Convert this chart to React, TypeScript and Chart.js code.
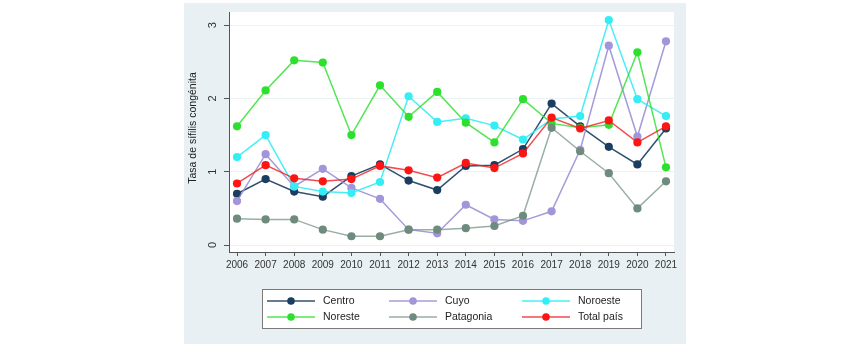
import React, { useEffect, useRef } from 'react';
import { Chart, registerables } from 'chart.js';
Chart.register(...registerables);

const years = [2006, 2007, 2008, 2009, 2010, 2011, 2012, 2013, 2014, 2015, 2016, 2017, 2018, 2019, 2020, 2021];
const centro = [0.70, 0.90, 0.73, 0.66, 0.94, 1.10, 0.88, 0.75, 1.08, 1.09, 1.31, 1.93, 1.62, 1.34, 1.10, 1.59];
const cuyo = [0.60, 1.24, 0.80, 1.04, 0.78, 0.63, 0.21, 0.16, 0.55, 0.35, 0.33, 0.46, 1.30, 2.72, 1.48, 2.78];
const noroeste = [1.20, 1.50, 0.80, 0.73, 0.71, 0.86, 2.03, 1.68, 1.73, 1.63, 1.44, 1.72, 1.76, 3.07, 1.99, 1.76];
const noreste = [1.62, 2.11, 2.52, 2.49, 1.50, 2.18, 1.75, 2.09, 1.67, 1.40, 1.99, 1.66, 1.60, 1.64, 2.63, 1.06];
const patagonia = [0.36, 0.35, 0.35, 0.21, 0.12, 0.12, 0.21, 0.21, 0.23, 0.26, 0.40, 1.60, 1.28, 0.98, 0.50, 0.87];
const totalPais = [0.84, 1.09, 0.91, 0.87, 0.90, 1.08, 1.02, 0.92, 1.12, 1.05, 1.25, 1.74, 1.59, 1.70, 1.40, 1.62];
const yTicks = [0, 1, 2, 3];
const yTitle = 'Tasa de sífilis congénita';

const seriesNames = ['Centro', 'Cuyo', 'Noroeste', 'Noreste', 'Patagonia', 'Total país'];
const seriesValues = [centro, cuyo, noroeste, noreste, patagonia, totalPais];
const markerColors = ['#1b3d5f', '#a295d9', '#33eef5', '#2ee02e', '#6e8b7d', '#ff1414'];
const lineColors = ['rgba(27,61,95,0.9)', 'rgba(150,138,210,0.85)', 'rgba(40,235,245,0.85)', 'rgba(40,224,40,0.8)', 'rgba(110,139,125,0.7)', 'rgba(240,30,30,0.8)'];

const FONT = '"Liberation Sans", Arial, sans-serif';

const decorPlugin = {
  id: 'decor',
  beforeDraw(chart: any) {
    const ctx = chart.ctx;
    const ca = chart.chartArea;
    ctx.save();
    ctx.fillStyle = '#ffffff';
    ctx.fillRect(0, 0, chart.width, chart.height);
    ctx.fillStyle = '#e8f0f3';
    ctx.fillRect(184, 3, 502, 341);
    ctx.fillStyle = '#ffffff';
    ctx.fillRect(ca.left, ca.top, ca.right - ca.left, ca.bottom - ca.top);
    ctx.restore();
  },
  afterDraw(chart: any) {
    const ctx = chart.ctx;
    const ys = chart.scales.y;
    ctx.save();
    // y tick labels (rotated)
    ctx.fillStyle = '#333333';
    ctx.font = `11px ${FONT}`;
    ctx.textAlign = 'center';
    ctx.textBaseline = 'middle';
    yTicks.forEach((v) => {
      const py = ys.getPixelForValue(v);
      ctx.save();
      ctx.translate(213, py);
      ctx.rotate(-Math.PI / 2);
      ctx.fillText(String(v), 0, 0);
      ctx.restore();
    });
    // y title
    ctx.save();
    ctx.translate(193, (chart.chartArea.top + chart.chartArea.bottom) / 2 - 4);
    ctx.rotate(-Math.PI / 2);
    ctx.font = `10.5px ${FONT}`;
    ctx.fillStyle = '#222222';
    ctx.fillText(yTitle, 0, 0);
    ctx.restore();

    // legend
    const bx = 262, by = 289, bw = 379, bh = 39;
    ctx.fillStyle = '#ffffff';
    ctx.fillRect(bx, by, bw, bh);
    ctx.strokeStyle = '#7a7a7a';
    ctx.lineWidth = 1;
    ctx.strokeRect(bx + 0.5, by + 0.5, bw, bh);
    const colX = [267, 389, 522];
    const rowY = [301, 317];
    ctx.font = `10.5px ${FONT}`;
    ctx.textAlign = 'left';
    ctx.textBaseline = 'middle';
    seriesNames.forEach((name, i) => {
      const x0 = colX[i % 3];
      const y0 = rowY[Math.floor(i / 3)];
      ctx.strokeStyle = lineColors[i];
      ctx.lineWidth = 1.5;
      ctx.beginPath();
      ctx.moveTo(x0, y0);
      ctx.lineTo(x0 + 48, y0);
      ctx.stroke();
      ctx.fillStyle = markerColors[i];
      ctx.beginPath();
      ctx.arc(x0 + 24, y0, 3.8, 0, Math.PI * 2);
      ctx.fill();
      ctx.fillStyle = '#222222';
      ctx.fillText(name, x0 + 56, y0 + 0.5);
    });
    ctx.restore();
  },
};

export default function App() {
  const ref = useRef<HTMLCanvasElement | null>(null);
  useEffect(() => {
    if (!ref.current) return;
    const datasets = seriesNames.map((name, i) => ({
      label: name,
      data: years.map((yr, j) => ({ x: yr, y: seriesValues[i][j] })),
      borderColor: lineColors[i],
      backgroundColor: markerColors[i],
      pointBackgroundColor: markerColors[i],
      pointBorderColor: markerColors[i],
      pointRadius: 4.1,
      pointBorderWidth: 0,
      borderWidth: 1.5,
      tension: 0,
      order: seriesNames.length - i,
    }));
    const chart = new Chart(ref.current, {
      type: 'line',
      data: { datasets },
      options: {
        animation: false,
        responsive: false,
        devicePixelRatio: 1,
        layout: { padding: { left: 0, right: 183, top: 12, bottom: 0 } },
        plugins: { legend: { display: false }, tooltip: { enabled: false } },
        scales: {
          x: {
            type: 'linear',
            min: 2005.72,
            max: 2021.28,
            afterFit: (s: any) => { s.height = 96; },
            afterBuildTicks: (s: any) => { s.ticks = years.map((v) => ({ value: v })); },
            grid: { display: true, drawOnChartArea: false, drawTicks: true, tickLength: 4, tickColor: '#555555' },
            border: { display: true, color: '#555555', width: 1 },
            ticks: {
              autoSkip: false,
              maxRotation: 0,
              minRotation: 0,
              padding: 3,
              color: '#333333',
              font: { family: FONT, size: 10 },
              callback: (v: any) => String(v),
            },
          },
          y: {
            type: 'linear',
            min: -0.095,
            max: 3.18,
            afterFit: (s: any) => { s.width = 229; },
            afterBuildTicks: (s: any) => { s.ticks = yTicks.map((v) => ({ value: v })); },
            grid: { display: true, color: '#edf2f4', lineWidth: 1, drawTicks: true, tickLength: 5, tickColor: '#555555' },
            border: { display: true, color: '#555555', width: 1 },
            ticks: { display: false },
          },
        },
      },
      plugins: [decorPlugin],
    });
    return () => chart.destroy();
  }, []);
  return (
    <div style={{ position: 'fixed', left: 0, top: 0, width: 857, height: 348 }}>
      <canvas ref={ref} width={857} height={348} style={{ display: 'block', width: 857, height: 348 }} />
    </div>
  );
}
